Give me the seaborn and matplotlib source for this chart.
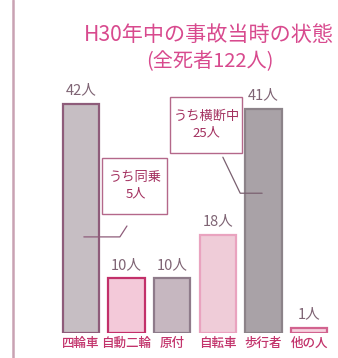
import matplotlib
matplotlib.use("Agg")
import matplotlib.pyplot as plt
import seaborn as sns
import pandas as pd
from matplotlib.patches import Rectangle
from matplotlib.lines import Line2D

categories = ["四輪車", "自動二輪", "原付", "自転車", "歩行者", "他の人"]
values = [42, 10, 10, 18, 41, 1]
value_labels = ["42人", "10人", "10人", "18人", "41人", "1人"]
title_line1 = "H30年中の事故当時の状態"
title_line2 = "(全死者122人)"
note1_text = "うち同乗\n5人"
note2_text = "うち横断中\n25人"

fills = ["#c6bec3", "#f3c9d9", "#c6b7c0", "#efccd8", "#a9a2a7", "#f5d2de"]
edges = ["#8e5c7a", "#c2306a", "#8e7b8a", "#e9a3bf", "#8c8389", "#d2638f"]

sns.set_theme(style="white")
plt.rcParams['font.family'] = ['Noto Sans CJK JP', 'DejaVu Sans']

fig = plt.figure(figsize=(3.38, 3.58), dpi=100)
fig.patch.set_facecolor("white")
ax = fig.add_axes([58/338, 1-333/358, (332-58)/338, 273/358])

df = pd.DataFrame({"cat": categories, "val": values})
sns.barplot(data=df, x="cat", y="val", hue="cat", palette=fills,
            width=0.79, legend=False, ax=ax, saturation=1)
for p, ec in zip(ax.patches, edges):
    p.set_edgecolor(ec)
    p.set_linewidth(1.6)

ax.set_xlim(-0.5, 5.5)
ax.set_ylim(0, 50)
ax.set_yticks([])
ax.set_xlabel("")
ax.set_ylabel("")
for s in ax.spines.values():
    s.set_visible(False)
ax.tick_params(axis="x", length=0, pad=3)
ax.set_xticks(range(len(categories)))
ax.set_xticklabels(categories, fontsize=9, color="#c2336b", fontweight="medium")

for i, (v, lab) in enumerate(zip(values, value_labels)):
    ax.text(i, v + 1.2, lab, ha="center", va="bottom", fontsize=10.5, color="#7f6474")

# annotation boxes
ax.add_patch(Rectangle((0.46, 21.8), 1.43, 10.25, fill=True, facecolor="white",
                       edgecolor="#b4688a", lw=1.0, zorder=4))
ax.text(1.2, 26.9, note1_text, ha="center", va="center", fontsize=9.5,
        color="#a3305f", linespacing=1.35, zorder=5)
ax.plot([1.01, 0.855, 0.066], [19.6, 17.6, 17.6], color="#8e5c7a", lw=0.9, zorder=5)

ax.add_patch(Rectangle((1.95, 32.97), 1.58, 10.23, fill=True, facecolor="white",
                       edgecolor="#b4688a", lw=1.0, zorder=4))
ax.text(2.76, 38.2, note2_text, ha="center", va="center", fontsize=9.5,
        color="#a3305f", linespacing=1.35, zorder=5)
ax.plot([3.11, 3.49, 3.97], [32.2, 25.6, 25.6], color="#7a6070", lw=0.9, zorder=5)

fig.text(84/338, 1-35/358, title_line1, ha="left", va="center", fontsize=15.2, color="#d84a8e")
fig.text(210/338, 1-62/358, title_line2, ha="center", va="center", fontsize=14.5, color="#d84a8e")

fig.add_artist(Line2D([13/338, 13/338], [0, 1], color="#c9a2b3", lw=1.8))

fig.savefig("out.png", dpi=100)
